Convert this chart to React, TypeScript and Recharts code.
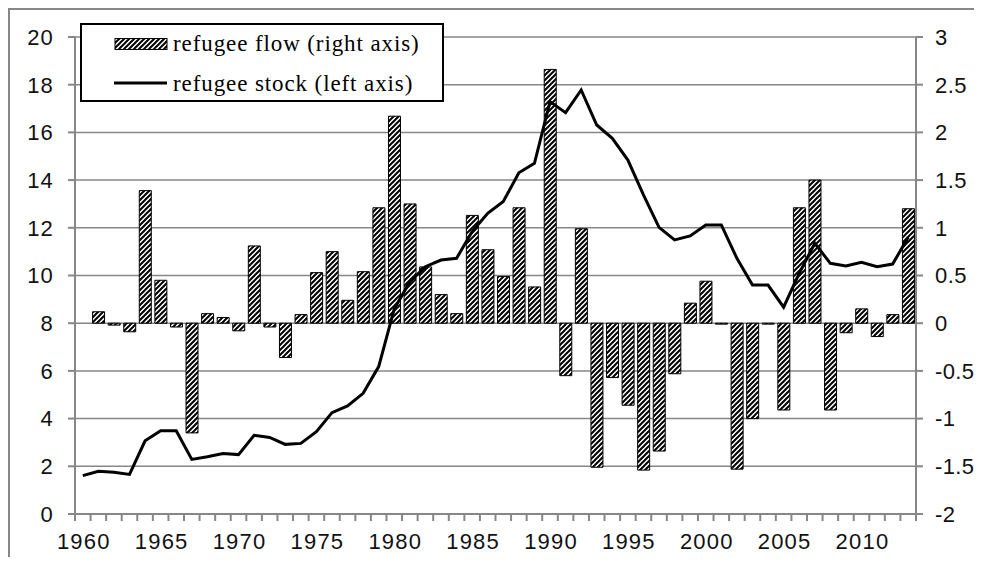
import React from "react";
import { ComposedChart, Bar, Line, XAxis, YAxis, CartesianGrid, Legend } from "recharts";

const years = [
  1960, 1961, 1962, 1963, 1964, 1965, 1966, 1967, 1968, 1969,
  1970, 1971, 1972, 1973, 1974, 1975, 1976, 1977, 1978, 1979,
  1980, 1981, 1982, 1983, 1984, 1985, 1986, 1987, 1988, 1989,
  1990, 1991, 1992, 1993, 1994, 1995, 1996, 1997, 1998, 1999,
  2000, 2001, 2002, 2003, 2004, 2005, 2006, 2007, 2008, 2009,
  2010, 2011, 2012, 2013,
];

// refugee flow, right axis
const flow = [
  null, 0.12, -0.02, -0.09, 1.39, 0.45, -0.04, -1.15, 0.1, 0.06,
  -0.08, 0.81, -0.04, -0.36, 0.09, 0.53, 0.75, 0.24, 0.54, 1.21,
  2.17, 1.25, 0.59, 0.3, 0.1, 1.13, 0.77, 0.49, 1.21, 0.38,
  2.66, -0.55, 0.99, -1.51, -0.57, -0.86, -1.54, -1.34, -0.53, 0.21,
  0.44, -0.01, -1.53, -1.0, -0.01, -0.91, 1.21, 1.5, -0.91, -0.1,
  0.15, -0.14, 0.09, 1.2,
];

// refugee stock, left axis
const stock = [
  1.61, 1.79, 1.75, 1.66, 3.07, 3.49, 3.49, 2.29, 2.4, 2.54,
  2.49, 3.3, 3.21, 2.92, 2.96, 3.45, 4.25, 4.53, 5.06, 6.18,
  8.6, 9.74, 10.37, 10.65, 10.72, 11.84, 12.61, 13.1, 14.31, 14.7,
  17.29, 16.83, 17.78, 16.31, 15.75, 14.84, 13.38, 12.02, 11.49, 11.66,
  12.12, 12.12, 10.72, 9.6, 9.6, 8.67, 10.09, 11.35, 10.51, 10.4,
  10.55, 10.37, 10.48, 11.6,
];

const leftTicks = [0, 2, 4, 6, 8, 10, 12, 14, 16, 18, 20];
const rightTicks = [-2, -1.5, -1, -0.5, 0, 0.5, 1, 1.5, 2, 2.5, 3];

const data = years.map((year, i) => ({ year, flow: flow[i], stock: stock[i] }));

const GRID = "#878787";
const AXIS_FONT = {
  fontFamily: "Liberation Sans, Arial, sans-serif",
  fontSize: 22,
  letterSpacing: 1.2,
  fill: "#111",
};
const RIGHT_FONT = { ...AXIS_FONT, letterSpacing: 0.4 };
const SERIF = "Liberation Serif, Times New Roman, serif";

const YearTick = (props: any) => {
  const { x, y, payload, index } = props;
  const half = payload && typeof payload.offset === "number" && payload.offset > 0 ? payload.offset : 7.8;
  const yr = Number(payload.value);
  return (
    <g>
      <line x1={x - half} x2={x - half} y1={y - 7} y2={y} stroke={GRID} strokeWidth={2} />
      {index === years.length - 1 && (
        <line x1={x + half} x2={x + half} y1={y - 7} y2={y} stroke={GRID} strokeWidth={2} />
      )}
      {yr % 5 === 0 && (
        <text x={x + 1} y={y + 28} textAnchor="middle" {...AXIS_FONT}>
          {yr}
        </text>
      )}
    </g>
  );
};

const LegendBox = () => (
  <svg width={364} height={79} style={{ display: "block" }}>
    <rect x={1} y={1} width={362} height={77} fill="#fff" stroke="#000" strokeWidth={2} />
    <rect x={35} y={15.5} width={52} height={11} fill="url(#hatch)" stroke="#000" strokeWidth={1} />
    <text x={93} y={28} fontFamily={SERIF} fontSize={23} letterSpacing={0.9} fill="#000">
      refugee flow (right axis)
    </text>
    <line x1={34} x2={87} y1={60} y2={60} stroke="#000" strokeWidth={3} />
    <text x={93} y={68} fontFamily={SERIF} fontSize={23} letterSpacing={0.9} fill="#000">
      refugee stock (left axis)
    </text>
  </svg>
);

export default function App() {
  return (
    <div
      style={{
        position: "relative",
        width: 970,
        height: 547,
        borderTop: `2px solid ${GRID}`,
        borderLeft: `2px solid ${GRID}`,
        background: "#fff",
      }}
    >
      <svg width={0} height={0} style={{ position: "absolute" }}>
        <defs>
          <pattern id="hatch" patternUnits="userSpaceOnUse" width={5} height={5}>
            <rect width={5} height={5} fill="#fff" />
            <path d="M-1,1 L1,-1 M0,5 L5,0 M4,6 L6,4" stroke="#000" strokeWidth={2} />
          </pattern>
        </defs>
      </svg>
      <ComposedChart width={970} height={547} data={data} margin={{ top: 27, right: 0, bottom: 0, left: 0 }}>
        <CartesianGrid vertical={false} stroke={GRID} strokeWidth={1.5} yAxisId="left" />
        <XAxis
          dataKey="year"
          height={43}
          interval={0}
          tickLine={false}
          tickSize={7}
          tickMargin={0}
          axisLine={{ stroke: GRID, strokeWidth: 2 }}
          tick={<YearTick />}
        />
        <YAxis
          yAxisId="left"
          width={65}
          domain={[0, 20]}
          ticks={leftTicks}
          interval={0}
          tickSize={7}
          tickMargin={14}
          axisLine={{ stroke: GRID, strokeWidth: 2 }}
          tickLine={{ stroke: GRID, strokeWidth: 2 }}
          tick={AXIS_FONT}
        />
        <YAxis
          yAxisId="right"
          orientation="right"
          width={64}
          domain={[-2, 3]}
          ticks={rightTicks}
          interval={0}
          tickSize={7}
          tickMargin={12}
          axisLine={{ stroke: GRID, strokeWidth: 2 }}
          tickLine={{ stroke: GRID, strokeWidth: 2 }}
          tick={RIGHT_FONT}
        />
        <Legend
          layout="horizontal"
          align="center"
          verticalAlign="middle"
          content={<LegendBox />}
          wrapperStyle={{ top: 13, left: 70, width: 364, height: 79 }}
        />
        <Bar
          yAxisId="right"
          dataKey="flow"
          name="refugee flow (right axis)"
          barSize={12}
          fill="url(#hatch)"
          stroke="#000"
          strokeWidth={1}
          isAnimationActive={false}
        />
        <Line
          yAxisId="left"
          type="linear"
          dataKey="stock"
          name="refugee stock (left axis)"
          stroke="#000"
          strokeWidth={3}
          dot={false}
          activeDot={false}
          isAnimationActive={false}
        />
      </ComposedChart>
    </div>
  );
}
